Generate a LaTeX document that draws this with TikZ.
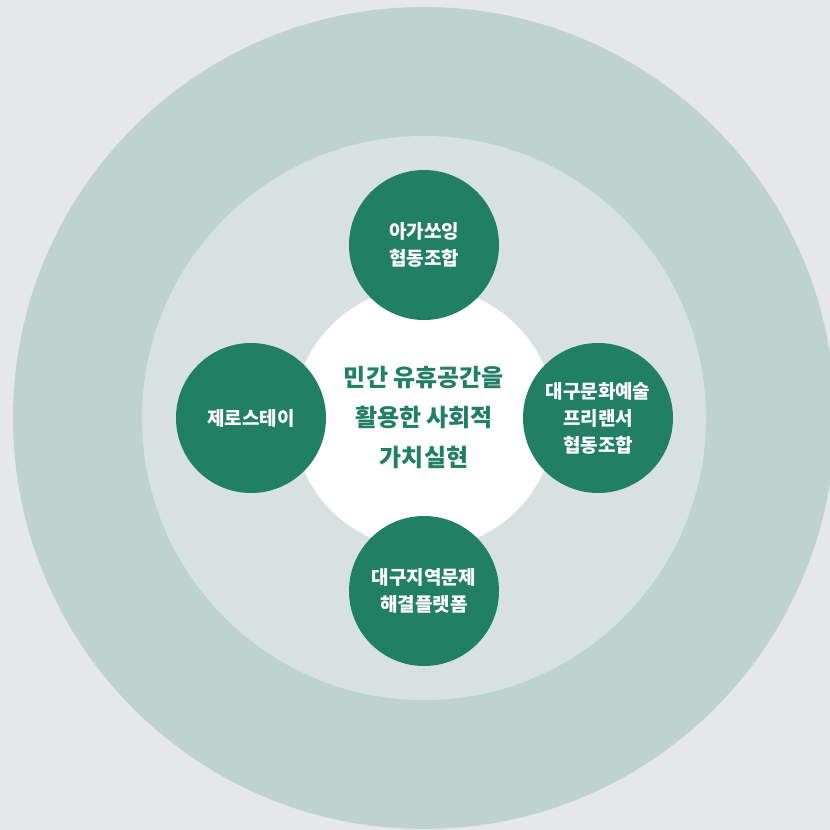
\documentclass[tikz,border=0pt]{standalone}
\usepackage{fontspec}
\newfontfamily\krfont{Noto Sans CJK KR}
\usetikzlibrary{positioning}
\definecolor{bgGray}{HTML}{E6E7E8}
\definecolor{outerRing}{HTML}{BFD3CE}
\definecolor{innerRing}{HTML}{D7E2E0}
\definecolor{hubGreen}{HTML}{217F63}
\tikzset{
	member/.style={circle,fill=hubGreen,minimum size=150pt,inner sep=0pt,
		text=white,align=center,font=\krfont\bfseries\fontsize{19}{27}\selectfont},
	hub/.style={circle,fill=white,minimum size=262pt,inner sep=0pt,
		text=hubGreen,align=center,font=\krfont\bfseries\fontsize{24}{40}\selectfont}
}

\begin{document}
\begin{tikzpicture}[x=1pt,y=-1pt]
	\useasboundingbox (0,0) rectangle (830,830);
	\clip (0,0) rectangle (830,830);
	\fill[bgGray] (0,0) rectangle (830,830);
	
	\coordinate (C) at (424,418);
	\coordinate (T) at (424,245);
	\coordinate (L) at (251,418);
	\coordinate (R) at (598,418);
	\coordinate (B) at (424,591);
	
	% rings
	\fill[outerRing] (C) circle[radius=411];
	\fill[innerRing] (C) circle[radius=282];
	
	\node[hub] (center) at (C) {민간 유휴공간을\\활용한 사회적\\가치실현};
	
	\node[member] (top)    at (T) {아가쏘잉\\협동조합};
	\node[member] (left)   at (L) {제로스테이};
	\node[member] (right)  at (R) {대구문화예술\\프리랜서\\협동조합};
	\node[member] (bottom) at (B) {대구지역문제\\해결플랫폼};
\end{tikzpicture}
\end{document}
